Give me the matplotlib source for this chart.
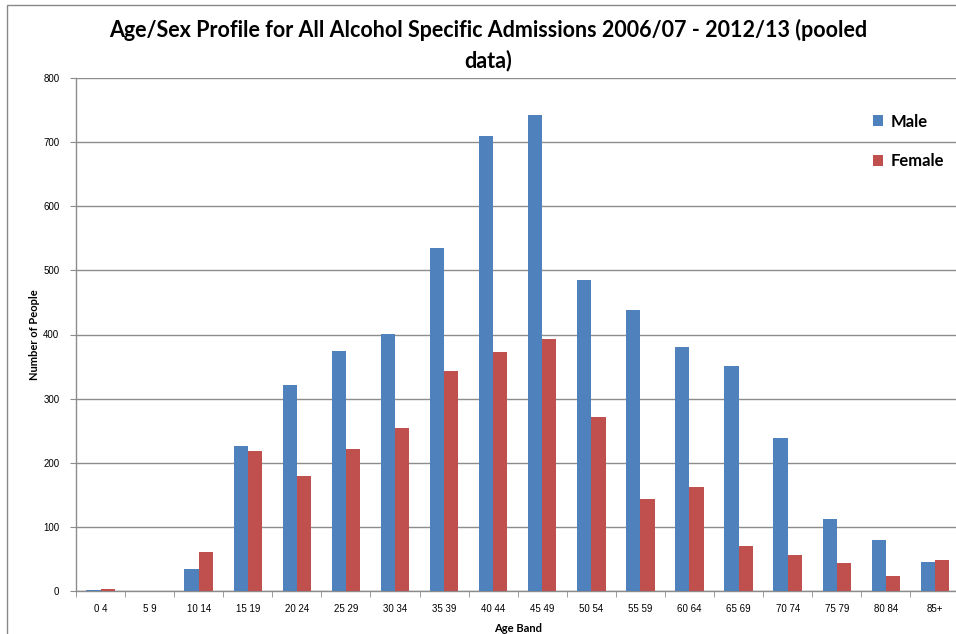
import matplotlib
matplotlib.use("Agg")
import matplotlib.pyplot as plt
from matplotlib.patches import Rectangle
import numpy as np

categories = ["0 4", "5 9", "10 14", "15 19", "20 24", "25 29", "30 34", "35 39",
              "40 44", "45 49", "50 54", "55 59", "60 64", "65 69", "70 74",
              "75 79", "80 84", "85+"]
male = [2, 0, 34, 226, 321, 374, 401, 535, 710, 742, 485, 438, 380, 351, 239, 112, 80, 45]
female = [3, 0, 61, 218, 179, 221, 254, 343, 373, 393, 271, 143, 162, 70, 56, 44, 23, 48]
yticks = [0, 100, 200, 300, 400, 500, 600, 700, 800]

MALE_C = "#4F81BD"
FEMALE_C = "#C0504D"
GRID_C = "#8C8C8C"

W, H = 956, 634
fig = plt.figure(figsize=(W / 100, H / 100), dpi=100)
fig.patch.set_facecolor("white")

# outer chart frame
fig.add_artist(Rectangle((7 / W, -0.01), 1.0, 1 - 5 / H + 0.01, transform=fig.transFigure,
                         fill=False, edgecolor="#888888", linewidth=1.0))

left_px, right_px = 76, 76 + 18 * 49.08
bottom_px, top_px = 591, 78
ax = fig.add_axes([left_px / W, 1 - bottom_px / H, (right_px - left_px) / W, (bottom_px - top_px) / H])

x = np.arange(len(categories))
bw = 0.29
ax.bar(x - bw / 2, male, width=bw, color=MALE_C, label="Male", zorder=3)
ax.bar(x + bw / 2, female, width=bw, color=FEMALE_C, label="Female", zorder=3)

ax.set_xlim(-0.5, len(categories) - 0.5)
ax.set_ylim(0, 800)
ax.set_yticks(yticks)
ax.set_yticklabels([str(v) for v in yticks], fontsize=7, family="Liberation Sans")
ax.yaxis.grid(True, color=GRID_C, linewidth=1.0, zorder=0)
ax.set_axisbelow(True)

ax.set_xticks(x)
ax.set_xticklabels(categories, fontsize=7, family="Liberation Sans")
ax.set_xticks(np.arange(-0.5, len(categories), 1.0), minor=True)
ax.tick_params(axis="x", which="major", length=0, pad=9)
ax.tick_params(axis="x", which="minor", length=4, color=GRID_C, direction="out")
ax.tick_params(axis="y", length=4, color=GRID_C, direction="out", pad=8)

for s in ["top", "right"]:
    ax.spines[s].set_visible(False)
for s in ["left", "bottom"]:
    ax.spines[s].set_color(GRID_C)
    ax.spines[s].set_linewidth(1.0)

ax.set_ylabel("Number of People", fontsize=8, fontweight="bold", family="Lato", labelpad=2)
ax.set_xlabel("Age Band", fontsize=8, fontweight="bold", family="Lato", labelpad=7)

fig.text(488 / W, 1 - 45 / H,
         "Age/Sex Profile for All Alcohol Specific Admissions 2006/07 - 2012/13 (pooled\ndata)",
         ha="center", va="center", fontsize=15.5, fontweight="bold", family="Lato",
         linespacing=1.45)

leg = ax.legend(loc="upper left", bbox_to_anchor=((866 - left_px) / (right_px - left_px), 1 - (107 - top_px) / (bottom_px - top_px)),
                frameon=False, prop={"family": "Lato", "weight": "bold", "size": 12},
                handlelength=0.65, handleheight=0.65, handletextpad=0.45, labelspacing=1.4,
                borderaxespad=0)

fig.savefig("out.png", dpi=100, facecolor="white")
